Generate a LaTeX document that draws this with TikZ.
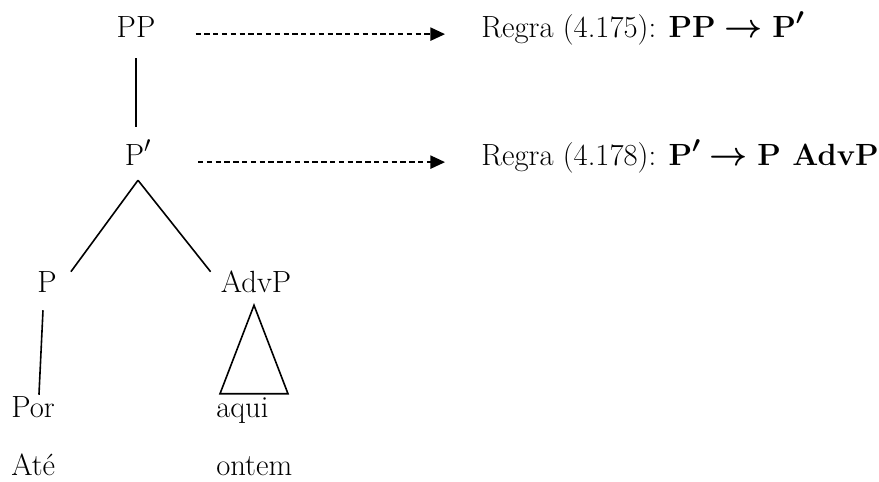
\documentclass[tikz,border=0pt]{standalone}
\usepackage{amsmath,amssymb}
\usepackage{tikz}
\usetikzlibrary{arrows.meta,calc}
\newcommand{\Pbar}{P$'$}
\newcommand{\Pbarbf}{\textbf{P}$^{\boldsymbol{\prime}}$}
\newcommand{\rto}{$\boldsymbol{\rightarrow}$}

\begin{document}
\begin{tikzpicture}[x=0.75pt,y=-0.75pt,
  every node/.append style={font=\fontsize{23}{27}\selectfont},
  cat/.style={inner sep=0pt,text height=15pt,text depth=0pt,anchor=base},
  word/.style={inner sep=0pt,text height=15pt,text depth=0pt,anchor=base west},
  rul/.style={inner sep=0pt,anchor=base west},
  br/.style={line width=1.2pt},
  dsh/.style={-{Triangle[length=11pt,width=10pt]},line width=1.1pt,
    dash pattern=on 4pt off 2.6pt},
]
  \useasboundingbox (0,0) rectangle (879,482);
  \node[cat] (pp) at (136,37) {PP};
  \node[cat] (pb) at (138,165) {\Pbar};
  \node[cat] (p) at (47,292) {P};
  \node[cat] (advp) at (256,292) {AdvP};
  \node[word] (por) at (11,417) {Por};
  \node[word] (aqui) at (216,417) {aqui};
  \node[word] (ate) at (11,475) {Até};
  \node[word] (ontem) at (216,475) {ontem};
  \node[rul] (r1) at (481,37) {Regra (4.175): \textbf{PP} \rto{} \Pbarbf};
  \node[rul] (r2) at (481,165) {Regra (4.178): \Pbarbf{} \rto{} \textbf{P AdvP}};
  \draw[br,shorten <=21pt*0.75,shorten >=18pt*0.75] (pp.south) -- (pp.south |- pb.north);
  \draw[br] ($(pb.south)+(0,15)$) -- ($(p.north east)+(14,0)$);
  \draw[br] ($(pb.south)+(0,15)$) -- ($(advp.north west)+(-10,0)$);
  \draw[br] ($(p.south)+(-4,18)$) -- ($(por.north)+(6,-2)$);
  \draw[br] ($(advp.south)+(-2,13)$) -- ($(aqui.north west)+(4,-3)$)
    -- ($(aqui.north west)+(72,-3)$) -- cycle;
  \draw[dsh,shorten <=30pt,shorten >=27pt] (pp.mid east) -- (r1.mid west);
  \draw[dsh,shorten <=35pt,shorten >=27pt] (pb.mid east) -- (r2.mid west);
\end{tikzpicture}
\end{document}
